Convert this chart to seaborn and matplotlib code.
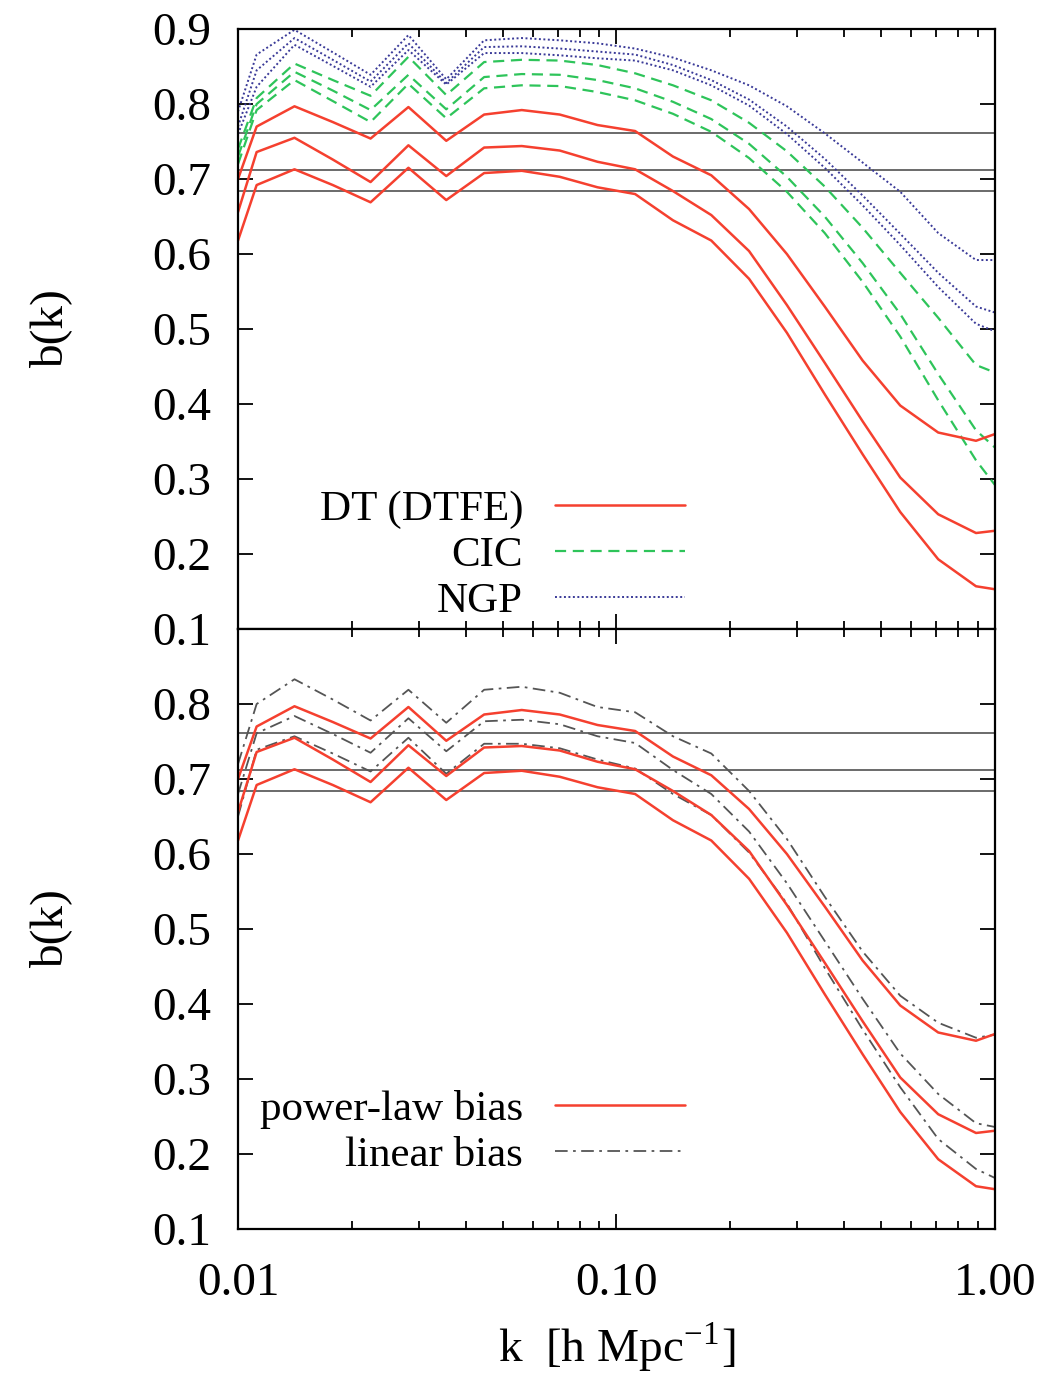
import numpy as np
import pandas as pd
import seaborn as sns
import matplotlib
matplotlib.use("Agg")
import matplotlib.pyplot as plt
from matplotlib.ticker import FixedLocator, FuncFormatter, LogLocator, NullFormatter

# ---------------- data ----------------
k = [0.01, 0.0112, 0.0141, 0.0178, 0.0224, 0.0282, 0.0355, 0.0447, 0.0562, 0.0708,
     0.0891, 0.112, 0.141, 0.178, 0.224, 0.282, 0.355, 0.447, 0.562, 0.708, 0.891, 1.0]

dt_hi = [0.700, 0.770, 0.797, 0.776, 0.754, 0.796, 0.751, 0.786, 0.792, 0.786, 0.772,
         0.764, 0.730, 0.705, 0.660, 0.600, 0.530, 0.458, 0.398, 0.362, 0.351, 0.360]
dt_mid = [0.656, 0.736, 0.755, 0.726, 0.696, 0.745, 0.704, 0.742, 0.744, 0.738, 0.723,
          0.713, 0.684, 0.652, 0.604, 0.532, 0.455, 0.377, 0.302, 0.253, 0.228, 0.231]
dt_lo = [0.618, 0.692, 0.713, 0.692, 0.669, 0.715, 0.672, 0.708, 0.711, 0.703, 0.689,
         0.680, 0.645, 0.618, 0.567, 0.495, 0.413, 0.333, 0.256, 0.193, 0.157, 0.153]

cic_hi = [0.740, 0.808, 0.854, 0.832, 0.811, 0.863, 0.812, 0.856, 0.859, 0.858, 0.852,
          0.841, 0.825, 0.805, 0.775, 0.737, 0.690, 0.635, 0.575, 0.515, 0.452, 0.442]
cic_mid = [0.730, 0.800, 0.843, 0.818, 0.792, 0.839, 0.793, 0.836, 0.840, 0.839, 0.832,
           0.821, 0.803, 0.780, 0.747, 0.703, 0.650, 0.588, 0.520, 0.440, 0.365, 0.342]
cic_lo = [0.720, 0.792, 0.832, 0.804, 0.776, 0.827, 0.781, 0.821, 0.825, 0.824, 0.816,
          0.805, 0.787, 0.763, 0.728, 0.683, 0.628, 0.563, 0.490, 0.405, 0.325, 0.292]

ngp_hi = [0.790, 0.866, 0.899, 0.869, 0.839, 0.892, 0.833, 0.885, 0.888, 0.885, 0.881,
          0.874, 0.862, 0.845, 0.825, 0.797, 0.761, 0.722, 0.683, 0.628, 0.592, 0.592]
ngp_mid = [0.770, 0.845, 0.888, 0.859, 0.830, 0.881, 0.828, 0.876, 0.877, 0.874, 0.870,
           0.866, 0.852, 0.832, 0.806, 0.770, 0.727, 0.678, 0.627, 0.575, 0.530, 0.522]
ngp_lo = [0.760, 0.823, 0.879, 0.851, 0.823, 0.872, 0.826, 0.868, 0.868, 0.865, 0.861,
          0.858, 0.845, 0.825, 0.798, 0.760, 0.715, 0.665, 0.612, 0.556, 0.507, 0.497]

lin_hi = [0.720, 0.800, 0.833, 0.806, 0.778, 0.819, 0.775, 0.819, 0.823, 0.815, 0.796,
          0.789, 0.757, 0.734, 0.684, 0.620, 0.543, 0.470, 0.411, 0.375, 0.355, 0.359]
lin_mid = [0.680, 0.761, 0.784, 0.760, 0.735, 0.781, 0.737, 0.777, 0.779, 0.773, 0.757,
           0.748, 0.712, 0.680, 0.630, 0.561, 0.484, 0.407, 0.334, 0.280, 0.241, 0.236]
lin_lo = [0.650, 0.739, 0.757, 0.734, 0.710, 0.755, 0.707, 0.747, 0.747, 0.741, 0.726,
          0.714, 0.680, 0.652, 0.602, 0.534, 0.448, 0.366, 0.289, 0.220, 0.180, 0.168]

ref_levels = [0.761, 0.712, 0.684]

y_ticks = [0.1, 0.2, 0.3, 0.4, 0.5, 0.6, 0.7, 0.8, 0.9]
x_ticks = [0.01, 0.1, 1.0]

# ---------------- style ----------------
sns.set_theme(style="ticks")
plt.rcParams["font.family"] = ["Liberation Serif", "DejaVu Serif"]
plt.rcParams["mathtext.fontset"] = "stix"
plt.rcParams["text.color"] = "black"
plt.rcParams["axes.labelcolor"] = "black"
FS_TICK = 34
FS_LAB = 34
FS_LEG = 31

RED = "#f5402f"
GREEN = "#2ec45a"
NAVY = "#3a3a98"
GRAY = "#555555"
HL = "#6a6a6a"

fig, (ax1, ax2) = plt.subplots(2, 1, figsize=(10.55, 13.77), dpi=100, sharex=True,
                               gridspec_kw=dict(hspace=0))
fig.subplots_adjust(left=0.2256, right=0.9431, top=0.9789, bottom=0.1075)


def draw(ax, series, color, label, **kw):
    for i, s in enumerate(series):
        sns.lineplot(x=k, y=s, ax=ax, color=color, estimator=None, sort=False,
                     label=label if i == 0 else None, legend=False, **kw)


for ax in (ax1, ax2):
    for lv in ref_levels:
        ax.axhline(lv, color=HL, lw=1.4, zorder=1)

# top panel
draw(ax1, [ngp_hi, ngp_mid, ngp_lo], NAVY, "NGP", lw=1.4, linestyle=(0, (1, 1.3)))
draw(ax1, [cic_hi, cic_mid, cic_lo], GREEN, "CIC", lw=1.6, linestyle=(0, (5, 3)))
draw(ax1, [dt_hi, dt_mid, dt_lo], RED, "DT (DTFE)", lw=1.8)

# bottom panel
draw(ax2, [lin_hi, lin_mid, lin_lo], GRAY, "linear bias", lw=1.3,
     linestyle=(0, (7, 3, 1.5, 3)))
draw(ax2, [dt_hi, dt_mid, dt_lo], RED, "power-law bias", lw=1.8)

for ax in (ax1, ax2):
    ax.set_xscale("log")
    ax.set_xlim(0.01, 1.0)
    ax.set_ylim(0.1, 0.9)
    ax.yaxis.set_major_locator(FixedLocator(y_ticks))
    ax.yaxis.set_major_formatter(FuncFormatter(lambda v, p: f"{v:.1f}"))
    ax.xaxis.set_major_locator(FixedLocator(x_ticks))
    ax.xaxis.set_minor_locator(LogLocator(base=10, subs=np.arange(2, 10), numticks=20))
    ax.xaxis.set_minor_formatter(NullFormatter())
    ax.tick_params(which="both", direction="in", top=True, right=True, width=1.3,
                   colors="black", labelsize=FS_TICK)
    ax.tick_params(axis="y", pad=19)
    ax.tick_params(axis="x", pad=24)
    ax.tick_params(which="major", length=11)
    ax.tick_params(which="minor", length=6)
    for sp in ax.spines.values():
        sp.set_visible(True)
        sp.set_linewidth(1.6)
        sp.set_color("black")
    ax.set_ylabel("b(k)", fontsize=FS_LAB, labelpad=58)

ax1.tick_params(axis="x", labelbottom=False)
ax2.xaxis.set_major_formatter(FuncFormatter(lambda v, p: f"{v:.2f}"))
ax2.set_yticks(y_ticks)
ax2.set_yticklabels([f"{v:.1f}" for v in y_ticks[:-1]] + [""])
ax2.set_xlabel(r"k  [h Mpc$^{\mathregular{-1}}$]", fontsize=FS_LAB, labelpad=12)


def legend(ax, order, anchor):
    handles, labels = ax.get_legend_handles_labels()
    hl = dict(zip(labels, handles))
    leg = ax.legend([hl[o] for o in order], order, loc="lower right",
                    bbox_to_anchor=anchor, frameon=False, fontsize=FS_LEG,
                    markerfirst=False, handlelength=3.0, handletextpad=0.75,
                    labelspacing=0.16, borderaxespad=0, borderpad=0)
    for col in leg._legend_handle_box.get_children():
        col.align = "right"
    for t in leg.get_texts():
        t.set_color("black")
    return leg


legend(ax1, ["DT (DTFE)", "CIC", "NGP"], (0.59, 0.013))
legend(ax2, ["power-law bias", "linear bias"], (0.59, 0.09))

fig.savefig("out.png", dpi=100)
